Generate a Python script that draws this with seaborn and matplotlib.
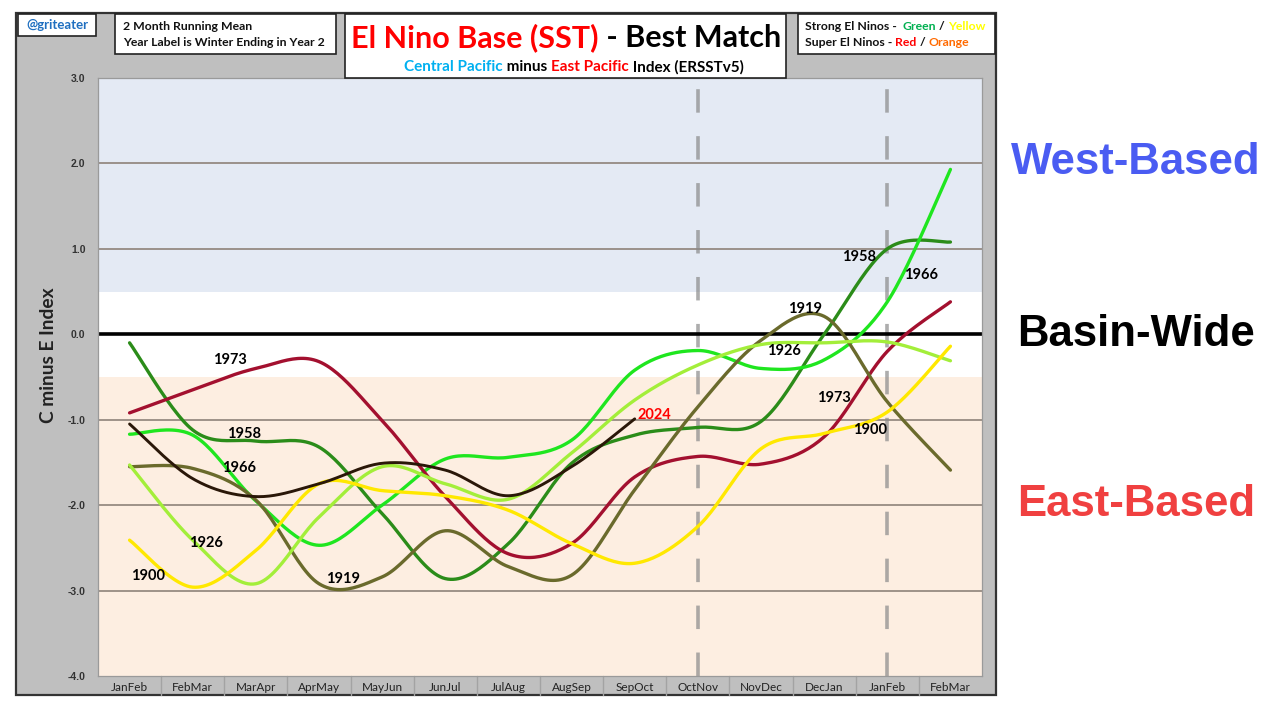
import numpy as np
import pandas as pd
import matplotlib
matplotlib.use("Agg")
import matplotlib.pyplot as plt
import seaborn as sns
from matplotlib.patches import Rectangle
import matplotlib.transforms as mtransforms

# ---------------- data ----------------
categories = ["JanFeb", "FebMar", "MarApr", "AprMay", "MayJun", "JunJul", "JulAug",
              "AugSep", "SepOct", "OctNov", "NovDec", "DecJan", "JanFeb", "FebMar"]

y1958 = [-0.10, -1.12, -1.25, -1.32, -2.10, -2.86, -2.45, -1.51, -1.18, -1.09, -1.02, 0.00, 1.00, 1.08]
y1966 = [-1.17, -1.18, -1.95, -2.47, -2.00, -1.46, -1.44, -1.24, -0.42, -0.19, -0.40, -0.30, 0.38, 1.93]
y1973 = [-0.92, -0.65, -0.40, -0.32, -1.01, -1.90, -2.57, -2.45, -1.67, -1.43, -1.52, -1.20, -0.20, 0.38]
y1919 = [-1.55, -1.57, -1.94, -2.92, -2.84, -2.30, -2.72, -2.82, -1.82, -0.85, -0.07, 0.21, -0.79, -1.59]
y1926 = [-1.53, -2.41, -2.92, -2.14, -1.55, -1.75, -1.93, -1.39, -0.77, -0.36, -0.12, -0.10, -0.09, -0.31]
y1900 = [-2.41, -2.96, -2.53, -1.75, -1.83, -1.89, -2.06, -2.45, -2.68, -2.25, -1.34, -1.16, -0.91, -0.14]
y2024 = [-1.05, -1.69, -1.90, -1.75, -1.51, -1.59, -1.89, -1.55, -0.99]

series_names = ["1958", "1966", "1973", "1919", "1926", "1900", "2024"]
series_values = [y1958, y1966, y1973, y1919, y1926, y1900, y2024]
series_colors = ["#2B8C19", "#1FE61F", "#A3102F", "#6A6A2C", "#A3EE3A", "#FFE800", "#2A1708"]

# label positions (category index, value)
label_text = ["1973", "1958", "1966", "1926", "1900", "1919", "2024",
              "1958", "1966", "1919", "1926", "1973", "1900"]
label_x = [1.59, 1.81, 1.73, 1.21, 0.29, 3.38, 8.31, 11.56, 12.54, 10.70, 10.37, 11.16, 11.73]
label_y = [-0.30, -1.17, -1.56, -2.44, -2.83, -2.86, -0.94, 0.91, 0.69, 0.30, -0.19, -0.74, -1.12]
label_col = ["black"] * 6 + ["#FF0000"] + ["black"] * 6

yticks = [-4, -3, -2, -1, 0, 1, 2, 3]
dash_positions = [9, 12]

# ---------------- helpers ----------------
def smooth(vals, n=24):
    p = np.array(vals, dtype=float)
    x = np.arange(len(p), dtype=float)
    xs, ys = [], []
    for i in range(len(p) - 1):
        i0 = max(i - 1, 0)
        i3 = min(i + 2, len(p) - 1)
        t = np.linspace(0, 1, n, endpoint=False)
        for arr, out in ((x, xs), (p, ys)):
            P0, P1, P2, P3 = arr[i0], arr[i], arr[i + 1], arr[i3]
            c1 = P1 + (P2 - P0) / 6.0
            c2 = P2 - (P3 - P1) / 6.0
            b = ((1 - t) ** 3) * P1 + 3 * ((1 - t) ** 2) * t * c1 + 3 * (1 - t) * t ** 2 * c2 + t ** 3 * P2
            out.extend(b.tolist())
    xs.append(x[-1]); ys.append(p[-1])
    return np.array(xs), np.array(ys)

W, H = 1280, 712
def fx(x): return x / W
def fy(y): return 1 - y / H

sns.set_theme(style="white")
plt.rcParams["font.family"] = ["Lato", "DejaVu Sans"]

fig = plt.figure(figsize=(12.8, 7.12), dpi=100)
fig.patch.set_facecolor("white")

# outer gray frame
fig.add_artist(Rectangle((fx(16), fy(695)), fx(996) - fx(16), fy(13) - fy(695),
                         transform=fig.transFigure, facecolor="#BFBFBF",
                         edgecolor="#333333", lw=1.6, zorder=0))

ax = fig.add_axes([fx(98), fy(676), fx(982) - fx(98), fy(78) - fy(676)])
ax.set_xlim(-0.5, 13.5)
ax.set_ylim(-4, 3)
ax.set_facecolor("white")
ax.axhspan(0.5, 3, color="#E4EAF4", zorder=0, lw=0)
ax.axhspan(-4, -0.5, color="#FDEEE1", zorder=0, lw=0)
for v in yticks:
    if v in (1, 2, -1, -2, -3):
        ax.axhline(v, color="#8E8279", lw=1.2, zorder=1)
ax.axhline(0, color="black", lw=2.6, zorder=2)
for xv in dash_positions:
    ax.axvline(xv, color="#8A8A8A", alpha=0.7, lw=2.6, ls=(0, (6.5, 6.5)), zorder=1.5)

for name, vals, col in zip(series_names, series_values, series_colors):
    xs, ys = smooth(vals)
    df = pd.DataFrame({"x": xs, "y": ys})
    lw = 2.1 if name == "2024" else 2.4
    sns.lineplot(data=df, x="x", y="y", ax=ax, color=col, lw=lw, sort=False,
                 estimator=None, zorder=4 if name == "2024" else 3)

for t, x, y, c in zip(label_text, label_x, label_y, label_col):
    ax.text(x, y, t, ha="center", va="center", fontsize=10.5, fontweight="bold",
            color=c, zorder=6)

ax.set_xlabel("")
ax.set_ylabel("")
ax.set_yticks(yticks)
ax.set_yticklabels([f"{v:.1f}" for v in yticks], fontsize=7.5, fontweight="bold",
                   color="#333333", family=["Liberation Sans", "DejaVu Sans"])
ax.set_xticks(range(len(categories)))
ax.set_xticklabels(categories, fontsize=8.5, color="#222222",
                   family=["Liberation Sans Narrow", "Lato", "DejaVu Sans"])
ax.tick_params(axis="y", length=0, pad=9)
ax.tick_params(axis="x", length=0, pad=4)
for s in ax.spines.values():
    s.set_color("#9A9A9A")
    s.set_linewidth(0.9)

# category cell separators
trans = mtransforms.blended_transform_factory(ax.transData, ax.transAxes)
for b in np.arange(0.5, len(categories) - 1, 1.0):
    ax.plot([b, b], [0, -0.032], transform=trans, color="#A3A3A3", lw=1, clip_on=False)

# y label
fig.text(fx(48), fy(355), "C minus E Index", rotation=90, ha="center", va="center",
         fontsize=13.8, fontweight="bold", color="#222222")

# ---------------- boxes ----------------
def box(x0, y0, x1, y1):
    fig.add_artist(Rectangle((fx(x0), fy(y1)), fx(x1) - fx(x0), fy(y0) - fy(y1),
                             transform=fig.transFigure, facecolor="white",
                             edgecolor="#222222", lw=1.2, zorder=1))

box(18, 14, 96, 36)
box(115, 14, 336, 54)
box(345, 14, 786, 78)
box(798, 14, 995, 54)

fig.text(fx(57), fy(25), "@griteater", ha="center", va="center", fontsize=9.5,
         fontweight="bold", color="#1F6FC0")
fig.text(fx(123), fy(26), "2 Month Running Mean", ha="left", va="center", fontsize=8.8,
         fontweight="bold", color="#111111")
fig.text(fx(123), fy(42), "Year Label is Winter Ending in Year 2", ha="left", va="center",
         fontsize=8.8, fontweight="bold", color="#111111")

renderer = fig.canvas.get_renderer()

def rich(xc, yc, parts, fontsize, ha="center"):
    texts = []
    widths = []
    for s, col, wt in parts:
        t = fig.text(0, fy(yc), s, color=col, fontweight=wt, fontsize=fontsize,
                     ha="left", va="center")
        texts.append(t)
        widths.append(t.get_window_extent(renderer).width)
    total = sum(widths)
    x = xc - total / 2 if ha == "center" else xc
    for t, w in zip(texts, widths):
        t.set_x(fx(x))
        x += w

rich(566, 38, [("El Nino Base (SST)", "#FF0000", "bold"), (" - Best Match", "black", "bold")], 22)
rich(574, 67, [("Central Pacific", "#00B0F0", "bold"), (" minus ", "black", "bold"),
               ("East Pacific", "#FF0000", "bold"), (" Index (ERSSTv5)", "black", "bold")], 11)
rich(805, 26, [("Strong El Ninos -  ", "#111111", "bold"), ("Green", "#00B050", "bold"),
               (" / ", "#111111", "bold"), ("Yellow", "#FFFF00", "bold")], 8.8, ha="left")
rich(805, 42, [("Super El Ninos - ", "#111111", "bold"), ("Red", "#FF0000", "bold"),
               (" / ", "#111111", "bold"), ("Orange", "#FF6A00", "bold")], 8.8, ha="left")

# right side annotations
for txt, yy, col in (("West-Based", 162, "#4A5CF2"), ("Basin-Wide", 335, "#000000"),
                     ("East-Based", 505, "#F04040")):
    fig.text(fx(1136), fy(yy), txt, ha="center", va="center", fontsize=31.5,
             fontweight="bold", color=col, family=["Liberation Sans", "DejaVu Sans"])

fig.savefig("out.png", dpi=100, facecolor="white")
